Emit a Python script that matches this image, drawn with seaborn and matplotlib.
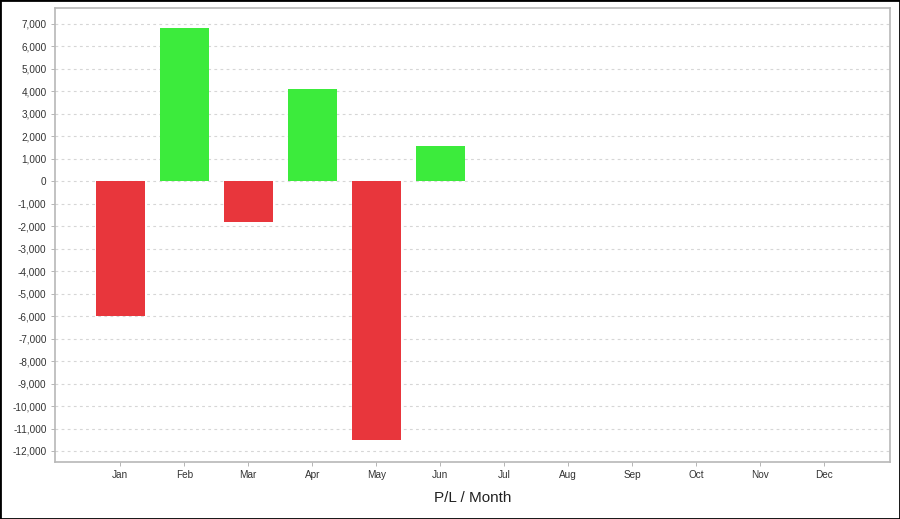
import numpy as np
import pandas as pd
import matplotlib
matplotlib.use("Agg")
import matplotlib.pyplot as plt
from matplotlib.ticker import FuncFormatter, MultipleLocator
from matplotlib.patches import Rectangle
import seaborn as sns

# monthly P/L values
months = ["Jan", "Feb", "Mar", "Apr", "May", "Jun", "Jul", "Aug", "Sep", "Oct", "Nov", "Dec"]
pl_months = ["Jan", "Feb", "Mar", "Apr", "May", "Jun"]
pl_values = [-6000, 6800, -1820, 4120, -11490, 1570]

df = pd.DataFrame({"month": pl_months, "pl": pl_values})
df["sign"] = np.where(df["pl"] >= 0, "gain", "loss")

sns.set_style("white")
plt.rcParams["font.family"] = ["Liberation Sans", "DejaVu Sans"]

fig = plt.figure(figsize=(9, 5.19), dpi=100)
ax = fig.add_axes([55 / 900, 1 - 462 / 519, 835 / 900, 454 / 519])

pal = {"gain": "#3ceb3c", "loss": "#e8363c"}
sns.barplot(data=df, x="month", y="pl", hue="sign", order=months, palette=pal,
            width=0.76, dodge=False, legend=False, ax=ax, saturation=1,
            edgecolor="none")

ax.set_xlim(-1.02, 12.03)
ax.set_ylim(-12490, 7710)
ax.yaxis.set_major_locator(MultipleLocator(1000))
ax.yaxis.set_major_formatter(FuncFormatter(lambda v, p: "{:,.0f}".format(v).replace("\u2212", "-")))
ax.yaxis.grid(True, linestyle=(0, (2.5, 3)), color="#d6d6d6", linewidth=0.8)
ax.xaxis.grid(False)
ax.set_axisbelow(True)

for s in ax.spines.values():
    s.set_color("#b8b8b8")
    s.set_linewidth(1.2)

ax.tick_params(axis="both", which="major", labelsize=7.2, colors="#333333",
               length=3, width=0.6, direction="out", left=True, bottom=True, pad=3)
ax.tick_params(axis="both", color="#aaaaaa")
ax.set_ylabel("")
ax.set_xlabel("P/L / Month", fontsize=11, color="#222222", labelpad=8)

fig.patches.append(Rectangle((0, 0), 1, 1, transform=fig.transFigure,
                             fill=False, edgecolor="black", linewidth=2))

fig.savefig("out.png", dpi=100)
